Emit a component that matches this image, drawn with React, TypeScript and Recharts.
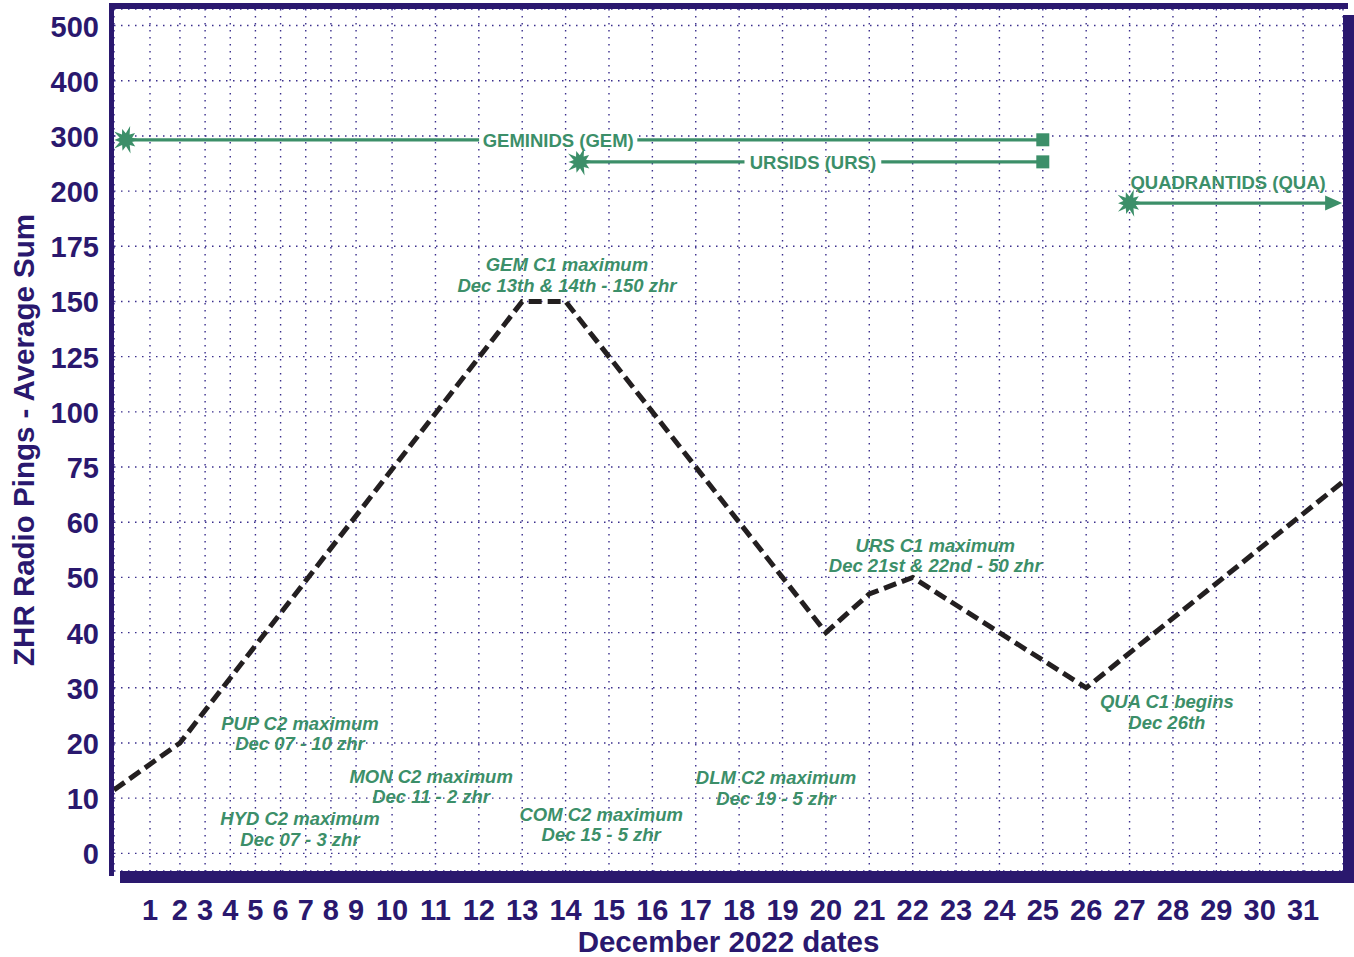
import React from "react";
import {
  CartesianGrid,
  Label,
  Line,
  LineChart,
  ReferenceDot,
  ReferenceLine,
  XAxis,
  YAxis,
} from "recharts";

const INK = "#2a186e";
const GREEN = "#3c8f69";
const FONT = "Arial, 'Liberation Sans', Helvetica, sans-serif";

// y ticks are drawn evenly spaced although the values are not
const yTicks = [0, 10, 20, 30, 40, 50, 60, 75, 100, 125, 150, 175, 200, 300, 400, 500];
const days = [
  1, 2, 3, 4, 5, 6, 7, 8, 9, 10, 11, 12, 13, 14, 15, 16, 17, 18, 19, 20, 21, 22, 23, 24, 25,
  26, 27, 28, 29, 30, 31,
];

// average ZHR line (day 0 and 32 = chart edges)
const lineDays = [0, 2, 13, 14, 20, 21, 22, 26, 32];
const lineZhr = [11.5, 20, 150, 150, 40, 47, 50, 30, 71];

const showers = [
  { name: "GEMINIDS (GEM)", start: 0.33, end: 25, zhr: 293, labelDay: 13.83, end_: "square" },
  { name: "URSIDS (URS)", start: 14.33, end: 25, zhr: 253, labelDay: 19.7, end_: "square" },
  { name: "QUADRANTIDS (QUA)", start: 27, end: 32, zhr: 194.6, labelDay: 29.27, end_: "arrow" },
];

const notes = [
  { lines: ["GEM C1 maximum", "Dec 13th & 14th - 150 zhr"], day: 14.03, zhr: 162 },
  { lines: ["URS C1 maximum", "Dec 21st & 22nd - 50 zhr"], day: 22.52, zhr: 54 },
  { lines: ["PUP C2 maximum", "Dec 07 - 10 zhr"], day: 6.77, zhr: 21.7 },
  { lines: ["MON C2 maximum", "Dec 11 - 2 zhr"], day: 10.9, zhr: 12.1 },
  { lines: ["HYD C2 maximum", "Dec 07 - 3 zhr"], day: 6.77, zhr: 4.4 },
  { lines: ["COM C2 maximum", "Dec 15 - 5 zhr"], day: 14.82, zhr: 5.2 },
  { lines: ["DLM C2 maximum", "Dec 19 - 5 zhr"], day: 18.85, zhr: 11.9 },
  { lines: ["QUA C1 begins", "Dec 26th"], day: 27.86, zhr: 25.6 },
];

function interp(v: number, xs: number[], ys: number[]) {
  for (let i = 1; i < xs.length; i++) {
    if (v <= xs[i] || i === xs.length - 1) {
      const t = (v - xs[i - 1]) / (xs[i] - xs[i - 1]);
      return ys[i - 1] + t * (ys[i] - ys[i - 1]);
    }
  }
  return 0;
}

// axis "slots": y ticks are one slot apart, x labels 1-9 sit closer together
const zhrToY = (v: number) => interp(v, yTicks, yTicks.map((_, i) => i));
const DAY_STOPS = [0, 1, 2, 9, 10, 31, 32];
const SLOT_STOPS = [-0.83, 0, 0.69, 4.75, 5.58, 26.58, 27.5];
const dayToX = (d: number) => interp(d, DAY_STOPS, SLOT_STOPS);

const xTicks = days.map(dayToX);
const yTickSlots = yTicks.map((_, i) => i);

const data = lineDays.map((d, i) => ({ x: dayToX(d), y: zhrToY(lineZhr[i]) }));

const nearest = (arr: number[], v: number) => {
  let best = 0;
  arr.forEach((a, i) => {
    if (Math.abs(a - v) < Math.abs(arr[best] - v)) best = i;
  });
  return best;
};

const XTick = ({ x, y, payload }: any) => (
  <text x={x} y={y + 49} textAnchor="middle" fill={INK} fontSize={29} fontWeight={700} fontFamily={FONT}>
    {days[nearest(xTicks, payload.value)]}
  </text>
);

const YTick = ({ x, y, payload }: any) => (
  <text x={x - 15} y={y + 11} textAnchor="end" fill={INK} fontSize={29} fontWeight={700} fontFamily={FONT}>
    {yTicks[nearest(yTickSlots, payload.value)]}
  </text>
);

// starburst marking where a shower begins
const Star = ({ cx, cy }: any) => {
  const pts: string[] = [];
  for (let i = 0; i < 20; i++) {
    const r = i % 2 === 1 ? 6.5 : i % 4 === 0 ? 14.5 : 11.5;
    const a = (Math.PI * i) / 10 - Math.PI / 2 + 0.3;
    pts.push(`${cx + r * Math.cos(a)},${cy + r * Math.sin(a)}`);
  }
  return <polygon points={pts.join(" ")} fill={GREEN} />;
};

const Square = ({ cx, cy }: any) => <rect x={cx - 6.5} y={cy - 6.5} width={13} height={13} fill={GREEN} />;

const Arrow = ({ cx, cy }: any) => (
  <polygon points={`${cx},${cy} ${cx - 17},${cy - 7.5} ${cx - 17},${cy + 7.5}`} fill={GREEN} />
);

const showerLabel = (name: string, above: boolean) => ({ cx, cy }: any) => {
  const w = name.length * 0.58 * 18.5 + 8;
  return (
    <g>
      {!above && <rect x={cx - w / 2} y={cy - 5} width={w} height={10} fill="#fff" />}
      <text
        x={cx}
        y={above ? cy - 21 + 6.6 : cy + 7}
        textAnchor="middle"
        fill={GREEN}
        fontSize={18.5}
        fontWeight={700}
        fontFamily={FONT}
      >
        {name}
      </text>
    </g>
  );
};

const noteShape = (lines: string[]) => ({ cx, cy }: any) => (
  <text textAnchor="middle" fill={GREEN} fontSize={18.5} fontWeight={700} fontStyle="italic" fontFamily={FONT}>
    <tspan x={cx} y={cy - 10.25 + 6.6}>
      {lines[0]}
    </tspan>
    <tspan x={cx} y={cy + 10.25 + 6.6}>
      {lines[1]}
    </tspan>
  </text>
);

const bar = (style: React.CSSProperties) => (
  <div style={{ position: "absolute", background: INK, pointerEvents: "none", ...style }} />
);

export default function App() {
  return (
    <div style={{ position: "absolute", left: 0, top: 0, width: 1354, height: 957, fontFamily: FONT }}>
      <LineChart width={1354} height={957} data={data} margin={{ top: 9, right: 11, bottom: 0, left: 0 }}>
        <CartesianGrid stroke="#3a2e8c" strokeDasharray="1.5 5.5" strokeWidth={1.4} />
        <XAxis
          type="number"
          dataKey="x"
          domain={[-0.83, 27.5]}
          ticks={xTicks}
          interval={0}
          allowDataOverflow
          axisLine={false}
          tickLine={false}
          tickSize={0}
          tickMargin={0}
          height={86}
          tick={<XTick />}
        >
          <Label
            content={({ viewBox }: any) => (
              <text
                x={viewBox.x + viewBox.width / 2}
                y={viewBox.y + 81}
                textAnchor="middle"
                fill={INK}
                fontSize={29.5}
                fontWeight={700}
                fontFamily={FONT}
              >
                December 2022 dates
              </text>
            )}
          />
        </XAxis>
        <YAxis
          type="number"
          dataKey="y"
          domain={[-0.32, 15.3]}
          ticks={yTickSlots}
          interval={0}
          allowDataOverflow
          axisLine={false}
          tickLine={false}
          tickSize={0}
          tickMargin={0}
          width={114}
          tick={<YTick />}
        >
          <Label
            content={({ viewBox }: any) => (
              <text
                transform={`translate(34, ${viewBox.y + viewBox.height / 2}) rotate(-90)`}
                textAnchor="middle"
                fill={INK}
                fontSize={29.5}
                fontWeight={700}
                fontFamily={FONT}
              >
                ZHR Radio Pings - Average Sum
              </text>
            )}
          />
        </YAxis>

        {showers.map((s) => (
          <ReferenceLine
            key={s.name + "-line"}
            ifOverflow="visible"
            segment={[
              { x: dayToX(s.start), y: zhrToY(s.zhr) },
              { x: dayToX(s.end) - (s.end_ === "arrow" ? 0.3 : 0), y: zhrToY(s.zhr) },
            ]}
            stroke={GREEN}
            strokeWidth={3.3}
          />
        ))}
        {showers.map((s) => (
          <ReferenceDot
            key={s.name + "-label"}
            ifOverflow="visible"
            x={dayToX(s.labelDay)}
            y={zhrToY(s.zhr)}
            shape={showerLabel(s.name, s.end_ === "arrow")}
          />
        ))}
        {showers.map((s) => (
          <ReferenceDot key={s.name + "-star"} ifOverflow="visible" x={dayToX(s.start)} y={zhrToY(s.zhr)} shape={Star} />
        ))}
        {showers.map((s) => (
          <ReferenceDot
            key={s.name + "-end"}
            ifOverflow="visible"
            x={dayToX(s.end) - (s.end_ === "arrow" ? 0.02 : 0)}
            y={zhrToY(s.zhr)}
            shape={s.end_ === "arrow" ? Arrow : Square}
          />
        ))}
        {notes.map((n) => (
          <ReferenceDot
            key={n.lines[0]}
            ifOverflow="visible"
            x={dayToX(n.day)}
            y={zhrToY(n.zhr)}
            shape={noteShape(n.lines)}
          />
        ))}

        <Line
          type="linear"
          dataKey="y"
          stroke="#231f20"
          strokeWidth={5}
          strokeDasharray="13 6"
          dot={false}
          activeDot={false}
          isAnimationActive={false}
        />
      </LineChart>

      {bar({ left: 109, top: 3, width: 1239, height: 5.5 })}
      {bar({ left: 109, top: 3, width: 5, height: 873 })}
      {bar({ left: 120, top: 871, width: 1234, height: 12 })}
      {bar({ left: 1343, top: 15, width: 11, height: 868 })}
    </div>
  );
}
